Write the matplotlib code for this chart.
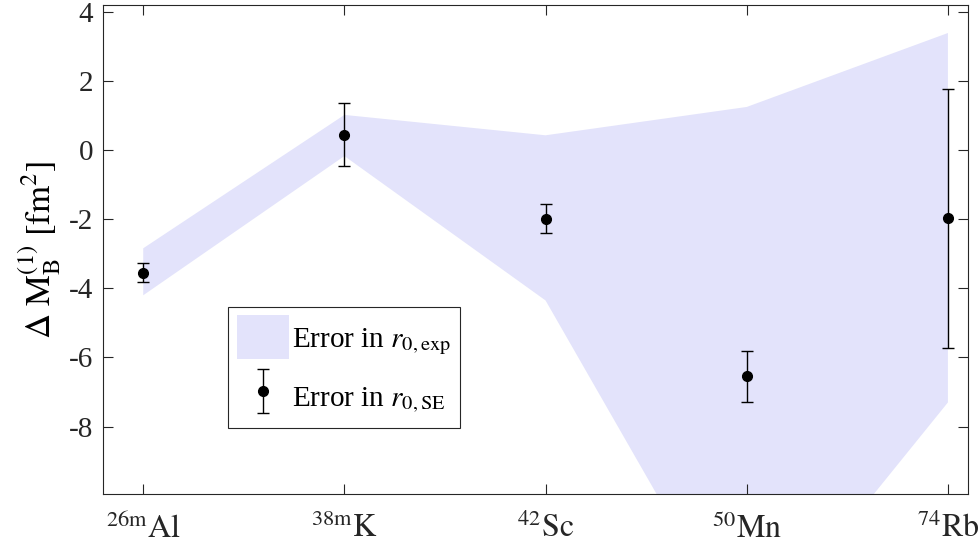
import matplotlib
matplotlib.use('Agg')
import matplotlib.pyplot as plt
from matplotlib.container import ErrorbarContainer
from matplotlib.legend_handler import HandlerErrorbar

nuclei = [r'$^{\mathrm{26m}}\mathrm{Al}$', r'$^{\mathrm{38m}}\mathrm{K}$', r'$^{\mathrm{42}}\mathrm{Sc}$',
          r'$^{\mathrm{50}}\mathrm{Mn}$', r'$^{\mathrm{74}}\mathrm{Rb}$']
xpos = [0, 1, 2, 3, 4]

# band: error in r0,exp
band_upper = [-2.84, 1.02, 0.43, 1.25, 3.39]
band_lower = [-4.20, -0.17, -4.35, -14.5, -7.30]

# points: error in r0,SE
dm = [-3.55, 0.44, -1.98, -6.55, -1.97]
dm_err = [0.27, 0.91, 0.42, 0.74, 3.75]

plt.rcParams['font.family'] = 'serif'
plt.rcParams['font.serif'] = ['Liberation Serif', 'DejaVu Serif']
plt.rcParams['mathtext.fontset'] = 'stix'
plt.rcParams['axes.unicode_minus'] = False
plt.rcParams.update({'font.size': 21})

fig = plt.figure(figsize=(9.79, 5.45), dpi=100)
ax = fig.add_axes([0.1052, 0.0936, 0.8836, 0.8972])

ax.fill_between(xpos, band_lower, band_upper, color='#e3e3fb', linewidth=0,
                label=r'Error in $r_{0,\mathrm{exp}}$')
ax.errorbar(xpos, dm, yerr=dm_err, fmt='o', color='black', markersize=7,
            elinewidth=1, capsize=4.5, capthick=1,
            label=r'Error in $r_{0,\mathrm{SE}}$')

ax.set_xlim(-0.2, 4.1)
ax.set_ylim(-9.95, 4.2)
ax.set_xticks(xpos)
ax.set_xticklabels(nuclei)
ax.set_yticks([-8, -6, -4, -2, 0, 2, 4])
ax.tick_params(direction='in', top=True, right=True, length=7, width=0.8,
               colors='#262626', labelsize=21, pad=7)
ax.tick_params(axis='x', labelsize=23, pad=14)
for s in ax.spines.values():
    s.set_color('#262626')
    s.set_linewidth(0.8)

ax.set_ylabel(r'$\Delta\ \mathrm{M}_{\mathrm{B}}^{(1)}\ [\mathrm{fm}^2]$', fontsize=25, labelpad=4)

leg = ax.legend(loc='lower left', bbox_to_anchor=(0.1445, 0.135), fancybox=False,
                framealpha=1, edgecolor='#262626', fontsize=21,
                handlelength=1.8, handleheight=1.94, borderpad=0.3, labelspacing=0.55,
                handletextpad=0.1, borderaxespad=0,
                handler_map={ErrorbarContainer: HandlerErrorbar(yerr_size=0.75)})
leg.get_frame().set_linewidth(0.8)

fig.savefig('out.png', dpi=100)
